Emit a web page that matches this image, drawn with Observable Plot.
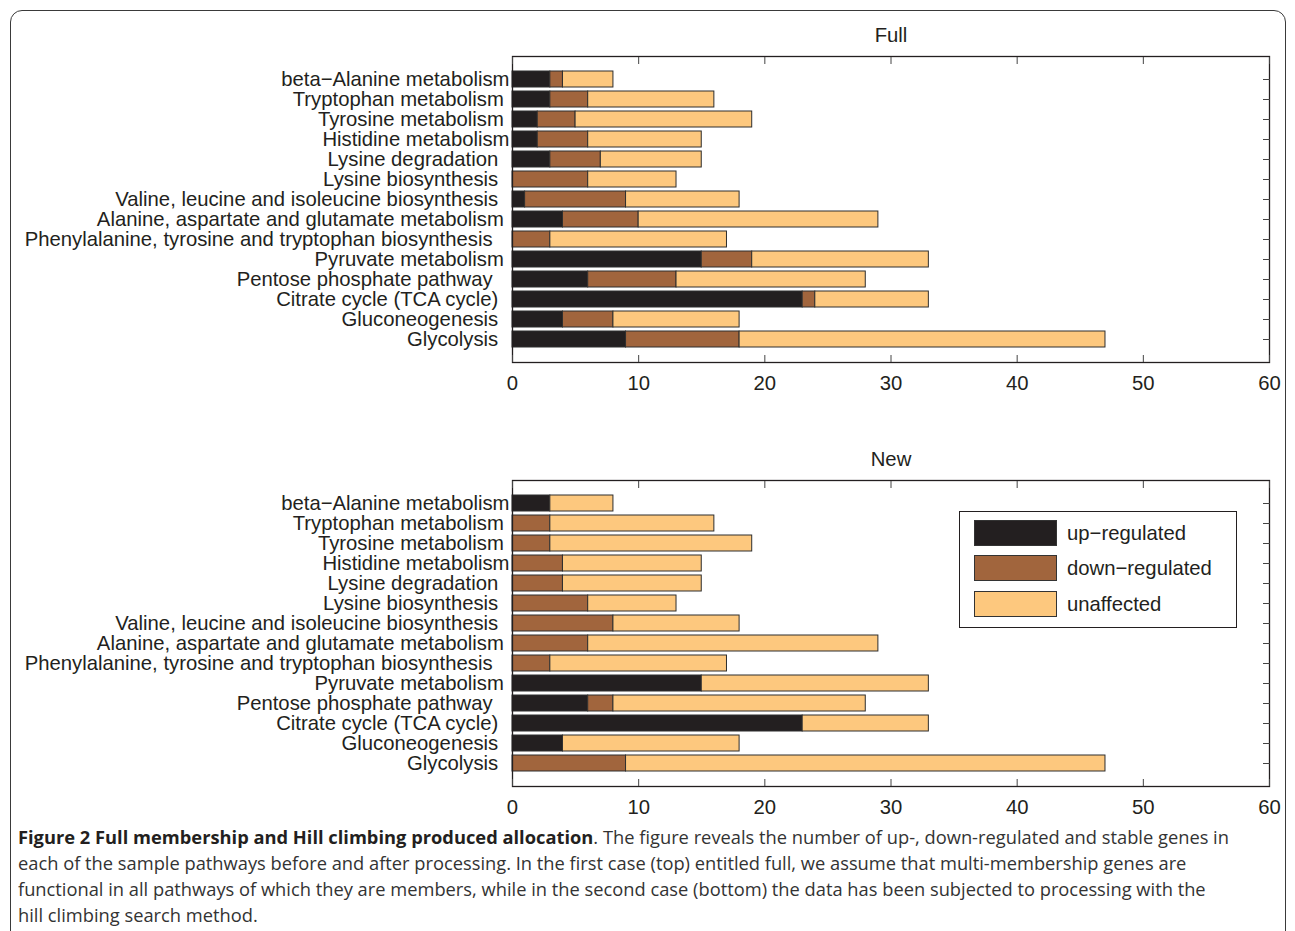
<!DOCTYPE html>
<html>
<head>
<meta charset="utf-8">
<script src="https://cdn.jsdelivr.net/npm/d3@7"></script>
<script src="https://cdn.jsdelivr.net/npm/@observablehq/plot@0.6"></script>
<style>
  body { margin: 0; background: #fff; }
  #wrap { position: relative; width: 1295px; height: 931px; overflow: hidden; background: #fff; }
  #border { position: absolute; left: 10px; top: 10px; width: 1276px; height: 980px; border: 1.5px solid #3a3a3a; border-radius: 12px; box-sizing: border-box; }
  .panel { position: absolute; left: 0; }
  .panel svg { white-space: pre; display: block; }
  #legend { position: absolute; left: 959px; top: 511px; width: 278px; height: 117px; box-sizing: border-box;
            border: 1.5px solid #231f20; background: #fff;
            font-family: "Liberation Sans", Arial, sans-serif; font-size: 20.3px; color: #231f20; }
  .lg-row { position: absolute; left: 14px; height: 26px; }
  .lg-sw { position: absolute; left: 0; top: 0; width: 83px; height: 26px; border: 1px solid #333; box-sizing: border-box; }
  .lg-tx { position: absolute; left: 93px; top: 0; line-height: 26px; white-space: nowrap; }
  #caption { position: absolute; left: 18px; top: 824px; font-family: "Open Sans", "Noto Sans", sans-serif; font-size: 17.5px; color: #333; }
  .cl { height: 26px; line-height: 26px; white-space: nowrap; transform-origin: 0 50%; }
  .cl span { display: inline-block; }
  .cl b { color: #231f20; font-weight: 700; }
</style>
</head>
<body>
<div id="wrap">
  <div id="border"></div>
  <div id="top" class="panel" style="top:0px"></div>
  <div id="bottom" class="panel" style="top:424px"></div>
  <div id="legend"></div>
  <div id="caption">
    <div class="cl" data-w="1260"><span><b>Figure 2 Full membership and Hill climbing produced allocation</b>. The figure reveals the number of up-, down-regulated and stable genes in</span></div>
    <div class="cl" data-w="1068"><span>each of the sample pathways before and after processing. In the first case (top) entitled full, we assume that multi-membership genes are</span></div>
    <div class="cl" data-w="1239"><span>functional in all pathways of which they are members, while in the second case (bottom) the data has been subjected to processing with the</span></div>
    <div class="cl" data-w="253"><span>hill climbing search method.</span></div>
  </div>
</div>
<script>
// ---- data ----
const pathways = [
  "beta−Alanine metabolism",
  "Tryptophan metabolism",
  "Tyrosine metabolism",
  "Histidine metabolism",
  "Lysine degradation",
  "Lysine biosynthesis",
  "Valine, leucine and isoleucine biosynthesis",
  "Alanine, aspartate and glutamate metabolism",
  "Phenylalanine, tyrosine and tryptophan biosynthesis",
  "Pyruvate metabolism",
  "Pentose phosphate pathway",
  "Citrate cycle (TCA cycle)",
  "Gluconeogenesis",
  "Glycolysis"
];
// tick labels as printed (padded character array, trailing blanks)
const tickLabels = [
  "beta−Alanine metabolism",
  "Tryptophan metabolism ",
  "Tyrosine metabolism ",
  "Histidine metabolism",
  "Lysine degradation  ",
  "Lysine biosynthesis  ",
  "Valine, leucine and isoleucine biosynthesis  ",
  "Alanine, aspartate and glutamate metabolism ",
  "Phenylalanine, tyrosine and tryptophan biosynthesis   ",
  "Pyruvate metabolism ",
  "Pentose phosphate pathway   ",
  "Citrate cycle (TCA cycle)  ",
  "Gluconeogenesis  ",
  "Glycolysis  "
];
const categories = ["up−regulated", "down−regulated", "unaffected"];
const colors = ["#231f20", "#a1653d", "#fdc87e"];
const xTicks = [0, 10, 20, 30, 40, 50, 60];

const fullUp         = [3, 3, 2, 2, 3, 0, 1, 4, 0, 15, 6, 23, 4, 9];
const fullDown       = [1, 3, 3, 4, 4, 6, 8, 6, 3, 4, 7, 1, 4, 9];
const fullUnaffected = [4, 10, 14, 9, 8, 7, 9, 19, 14, 14, 15, 9, 10, 29];

const newUp          = [3, 0, 0, 0, 0, 0, 0, 0, 0, 15, 6, 23, 4, 0];
const newDown        = [0, 3, 3, 4, 4, 6, 8, 6, 3, 0, 2, 0, 0, 9];
const newUnaffected  = [5, 13, 16, 11, 11, 7, 10, 23, 14, 18, 20, 10, 14, 38];

function panel(title, up, down, unaff) {
  const rows = [];
  pathways.forEach((p, i) => {
    [up, down, unaff].forEach((arr, k) => {
      if (arr[i] > 0) rows.push({pathway: p, category: categories[k], value: arr[i]});
    });
  });
  return Plot.plot({
    width: 1295,
    height: 402,
    marginLeft: 512,
    marginRight: 26,
    marginTop: 56,
    marginBottom: 40,
    x: {domain: [0, 60]},
    y: {domain: pathways, paddingInner: 0.2, paddingOuter: 0.6},
    color: {domain: categories, range: colors},
    style: {fontFamily: "'Liberation Sans', Arial, sans-serif", fontSize: "20.3px", color: "#231f20", background: "transparent", overflow: "visible"},
    marks: [
      Plot.barX(rows, {x: "value", y: "pathway", fill: "category", stroke: "#2e2e2e", strokeWidth: 1}),
      Plot.frame({stroke: "#231f20", strokeWidth: 1.3}),
      Plot.axisX({anchor: "bottom", ticks: xTicks, tickSize: -7, tickPadding: 20, label: null, stroke: "#444", fill: "#231f20"}),
      Plot.axisX({anchor: "top", ticks: xTicks, tickSize: -7, tickFormat: () => "", label: null, stroke: "#444"}),
      Plot.axisY({anchor: "left", tickSize: 0, tickPadding: 3, tickFormat: p => tickLabels[pathways.indexOf(p)], label: null, fill: "#231f20"}),
      Plot.axisY({anchor: "right", tickSize: -7, tickFormat: () => "", label: null, stroke: "#444"}),
      Plot.text([title], {frameAnchor: "top", lineAnchor: "bottom", dy: -15, fontSize: 20.3, fill: "#231f20"})
    ]
  });
}

document.getElementById("top").appendChild(panel("Full", fullUp, fullDown, fullUnaffected));
document.getElementById("bottom").appendChild(panel("New", newUp, newDown, newUnaffected));

// legend
const lg = document.getElementById("legend");
const rowTops = [8, 43, 79];
categories.forEach((c, i) => {
  const r = document.createElement("div");
  r.className = "lg-row";
  r.style.top = rowTops[i] + "px";
  r.innerHTML = `<div class="lg-sw" style="background:${colors[i]}"></div><div class="lg-tx">${c}</div>`;
  lg.appendChild(r);
});

// fit caption: one common horizontal scale (from the three full lines)
const lines = Array.from(document.querySelectorAll(".cl"));
let natural = 0, target = 0;
lines.slice(0, 3).forEach(el => {
  natural += el.querySelector("span").getBoundingClientRect().width;
  target += +el.dataset.w;
});
const s = natural > 0 ? target / natural : 1;
lines.forEach(el => { el.style.transform = `scaleX(${s})`; });
</script>
</body>
</html>
